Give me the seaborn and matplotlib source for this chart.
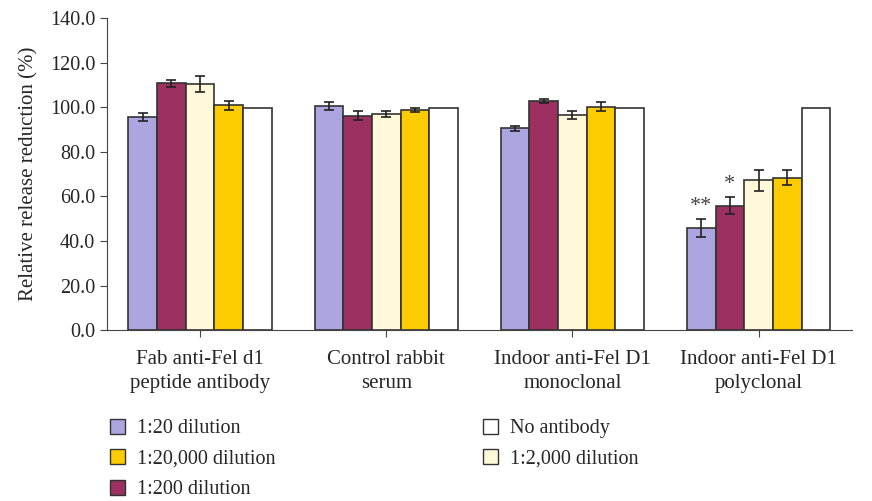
import numpy as np
import pandas as pd
import seaborn as sns
import matplotlib.pyplot as plt
from matplotlib.patches import Patch

# data
groups = ["Fab anti-Fel d1\npeptide antibody", "Control rabbit\nserum",
          "Indoor anti-Fel D1\nmonoclonal", "Indoor anti-Fel D1\npolyclonal"]
dilutions = ["1:20 dilution", "1:200 dilution", "1:2,000 dilution",
             "1:20,000 dilution", "No antibody"]
colors = ["#ABA5E0", "#9C3060", "#FFF9DA", "#FCCC00", "#FFFFFF"]

vals_1_20 = [95.7, 100.5, 90.5, 45.9]
vals_1_200 = [110.7, 96.2, 102.6, 55.9]
vals_1_2000 = [110.4, 97.0, 96.3, 67.3]
vals_1_20000 = [100.9, 98.7, 100.3, 68.3]
vals_none = [99.5, 99.5, 99.5, 99.5]

err_1_20 = [1.7, 1.9, 1.0, 4.0]
err_1_200 = [1.7, 2.0, 0.9, 4.0]
err_1_2000 = [3.6, 1.5, 1.8, 4.7]
err_1_20000 = [2.1, 1.0, 2.2, 3.4]
err_none = [0, 0, 0, 0]

# significance marks (group index, dilution index, label)
stars = [(3, 0, "**"), (3, 1, "*")]

all_vals = [vals_1_20, vals_1_200, vals_1_2000, vals_1_20000, vals_none]
all_errs = [err_1_20, err_1_200, err_1_2000, err_1_20000, err_none]

rows = []
for d, v, e in zip(dilutions, all_vals, all_errs):
    for g, vv, ee in zip(groups, v, e):
        rows.append({"group": g, "dilution": d, "value": vv, "err": ee})
df = pd.DataFrame(rows)

sns.set_style("ticks")
plt.rcParams["font.family"] = ["Liberation Serif", "DejaVu Serif"]

fig = plt.figure(figsize=(8.72, 5.01), dpi=100)
ax = fig.add_axes([0.1227, 0.341, 0.854, 0.623])

sns.barplot(data=df, x="group", y="value", hue="dilution", hue_order=dilutions,
            palette=colors, errorbar=None, width=0.77, edgecolor="#333333",
            linewidth=1.2, saturation=1, legend=False, ax=ax)

# error bars on top of the bars seaborn drew
for i, d in enumerate(dilutions):
    bars = ax.containers[i]
    for j, p in enumerate(bars.patches):
        e = all_errs[i][j]
        if e > 0:
            ax.errorbar(p.get_x() + p.get_width() / 2, p.get_height(), yerr=e,
                        fmt="none", ecolor="#222222", elinewidth=1.2,
                        capsize=3.5, capthick=1.2, zorder=5)

for g, d, lab in stars:
    p = ax.containers[d].patches[g]
    ax.text(p.get_x() + p.get_width() / 2, p.get_height() + all_errs[d][g] + 1.2,
            lab, ha="center", va="bottom", fontsize=16, color="#444444")

ax.set_ylim(0, 140)
ax.set_xlim(-0.5, 3.5)
ax.set_yticks(np.arange(0, 141, 20))
ax.set_yticklabels([f"{t:.1f}" for t in np.arange(0, 141, 20)], fontsize=14.5)
ax.tick_params(axis="x", labelsize=15, length=5, color="#444444", pad=9)
ax.tick_params(axis="y", length=5, color="#444444")
for lbl in ax.get_xticklabels():
    lbl.set_linespacing(1.4)
ax.set_xlabel("")
ax.set_ylabel("Relative release reduction (%)", fontsize=15, labelpad=8)
sns.despine(ax=ax)
for s in ["left", "bottom"]:
    ax.spines[s].set_color("#444444")

handles = [Patch(facecolor=colors[k], edgecolor="#333333", label=dilutions[k])
           for k in [0, 3, 1, 4, 2]]
fig.legend(handles=handles, ncol=2, loc="upper left", bbox_to_anchor=(0.105, 0.2),
           frameon=False, fontsize=14.5, handlelength=0.75, handleheight=0.75,
           handletextpad=0.6, columnspacing=10.3, labelspacing=0.55)

fig.savefig("out.png", dpi=100)
